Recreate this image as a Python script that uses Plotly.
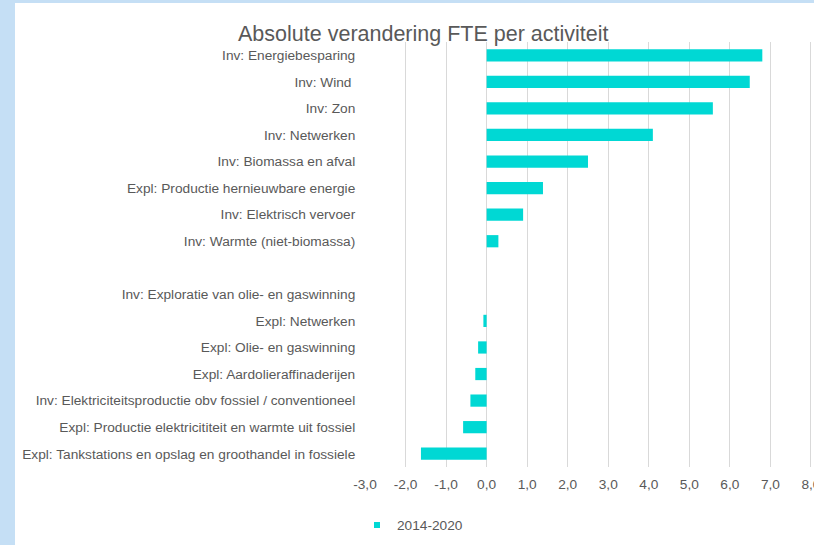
import plotly.graph_objects as go

# ---- data ----
categories = [
    "Inv: Energiebesparing",
    "Inv: Wind\u00a0",
    "Inv: Zon",
    "Inv: Netwerken",
    "Inv: Biomassa en afval",
    "Expl: Productie hernieuwbare energie",
    "Inv: Elektrisch vervoer",
    "Inv: Warmte (niet-biomassa)",
    "\u00a0",
    "Inv: Exploratie van olie- en gaswinning",
    "Expl: Netwerken",
    "Expl: Olie- en gaswinning",
    "Expl: Aardolieraffinaderijen",
    "Inv: Elektriciteitsproductie obv fossiel / conventioneel",
    "Expl: Productie elektricititeit en warmte uit fossiel",
    "Expl: Tankstations en opslag en groothandel in fossiele",
]
values_2014_2020 = [6.80, 6.49, 5.58, 4.10, 2.50, 1.39, 0.90, 0.29, None,
                    0.0, -0.08, -0.21, -0.28, -0.40, -0.58, -1.62]
series_name = "2014-2020"
x_tickvals = [-3, -2, -1, 0, 1, 2, 3, 4, 5, 6, 7, 8]
x_ticktext = ["-3,0", "-2,0", "-1,0", "0,0", "1,0", "2,0", "3,0", "4,0",
              "5,0", "6,0", "7,0", "8,0"]
title_text = "Absolute verandering FTE per activiteit"

# ---- styling ----
W, H = 814, 545
ML, MR, MT, MB = 365, 1, 42, 78
BAR = "#00d8d4"
TXT = "#595959"
FRAME = "#c5dff5"
FONT = "Liberation Sans, Arial, sans-serif"

pw = W - ML - MR
ph = H - MT - MB


def px_x(px):
    return (px - ML) / pw


def px_y(py):
    return (H - MB - py) / ph


fig = go.Figure()
fig.add_trace(go.Bar(
    x=values_2014_2020, y=categories, orientation="h",
    marker=dict(color=BAR, line=dict(width=0)),
    name=series_name, showlegend=False,
))
fig.add_trace(go.Scatter(
    x=[None], y=[None], mode="markers", name=series_name,
    marker=dict(symbol="square", size=6, color=BAR),
    showlegend=True,
))

fig.update_layout(
    width=W, height=H,
    margin=dict(l=ML, r=MR, t=MT, b=MB, pad=0, autoexpand=False),
    paper_bgcolor="white", plot_bgcolor="white",
    font=dict(family=FONT, size=13.7, color=TXT),
    bargap=0.54,
    title=dict(text=title_text, x=0.52, xref="container", xanchor="center",
               y=1 - 33 / H, yref="container", yanchor="middle",
               font=dict(size=21.5, color=TXT, family=FONT)),
    xaxis=dict(range=[-3, 8.05], tickvals=x_tickvals, ticktext=x_ticktext,
               showgrid=True, gridcolor="#d9d9d9", gridwidth=1,
               zeroline=False, showline=False, automargin=False,
               ticks="outside", ticklen=5, tickcolor="rgba(0,0,0,0)",
               ticklabeloverflow="allow",
               tickfont=dict(size=13.7, color=TXT)),
    yaxis=dict(autorange="reversed", type="category", automargin=False,
               showgrid=False, zeroline=False, showline=False,
               ticks="outside", ticklen=6, tickcolor="rgba(0,0,0,0)",
               tickfont=dict(size=13.7, color=TXT)),
    showlegend=True,
    legend=dict(orientation="h", x=px_x(357), xanchor="left",
                y=px_y(525), yanchor="middle",
                font=dict(size=13.7, color=TXT), itemwidth=30,
                bgcolor="rgba(0,0,0,0)"),
    shapes=[
        dict(type="rect", xref="paper", yref="paper",
             x0=px_x(0), x1=px_x(15), y0=px_y(H), y1=px_y(0),
             fillcolor=FRAME, line=dict(width=0), layer="below"),
        dict(type="rect", xref="paper", yref="paper",
             x0=px_x(0), x1=px_x(W), y0=px_y(3), y1=px_y(0),
             fillcolor=FRAME, line=dict(width=0), layer="below"),
    ],
)

# clip the right-edge tick label at the figure border (as in the original)
clip_js = (
    "document.documentElement.style.overflow='hidden';"
    "document.body.style.overflow='hidden';"
    "document.querySelectorAll('.main-svg').forEach(function(s){"
    "s.style.overflow='hidden';});"
)
fig.write_html("out.html", post_script=clip_js)
